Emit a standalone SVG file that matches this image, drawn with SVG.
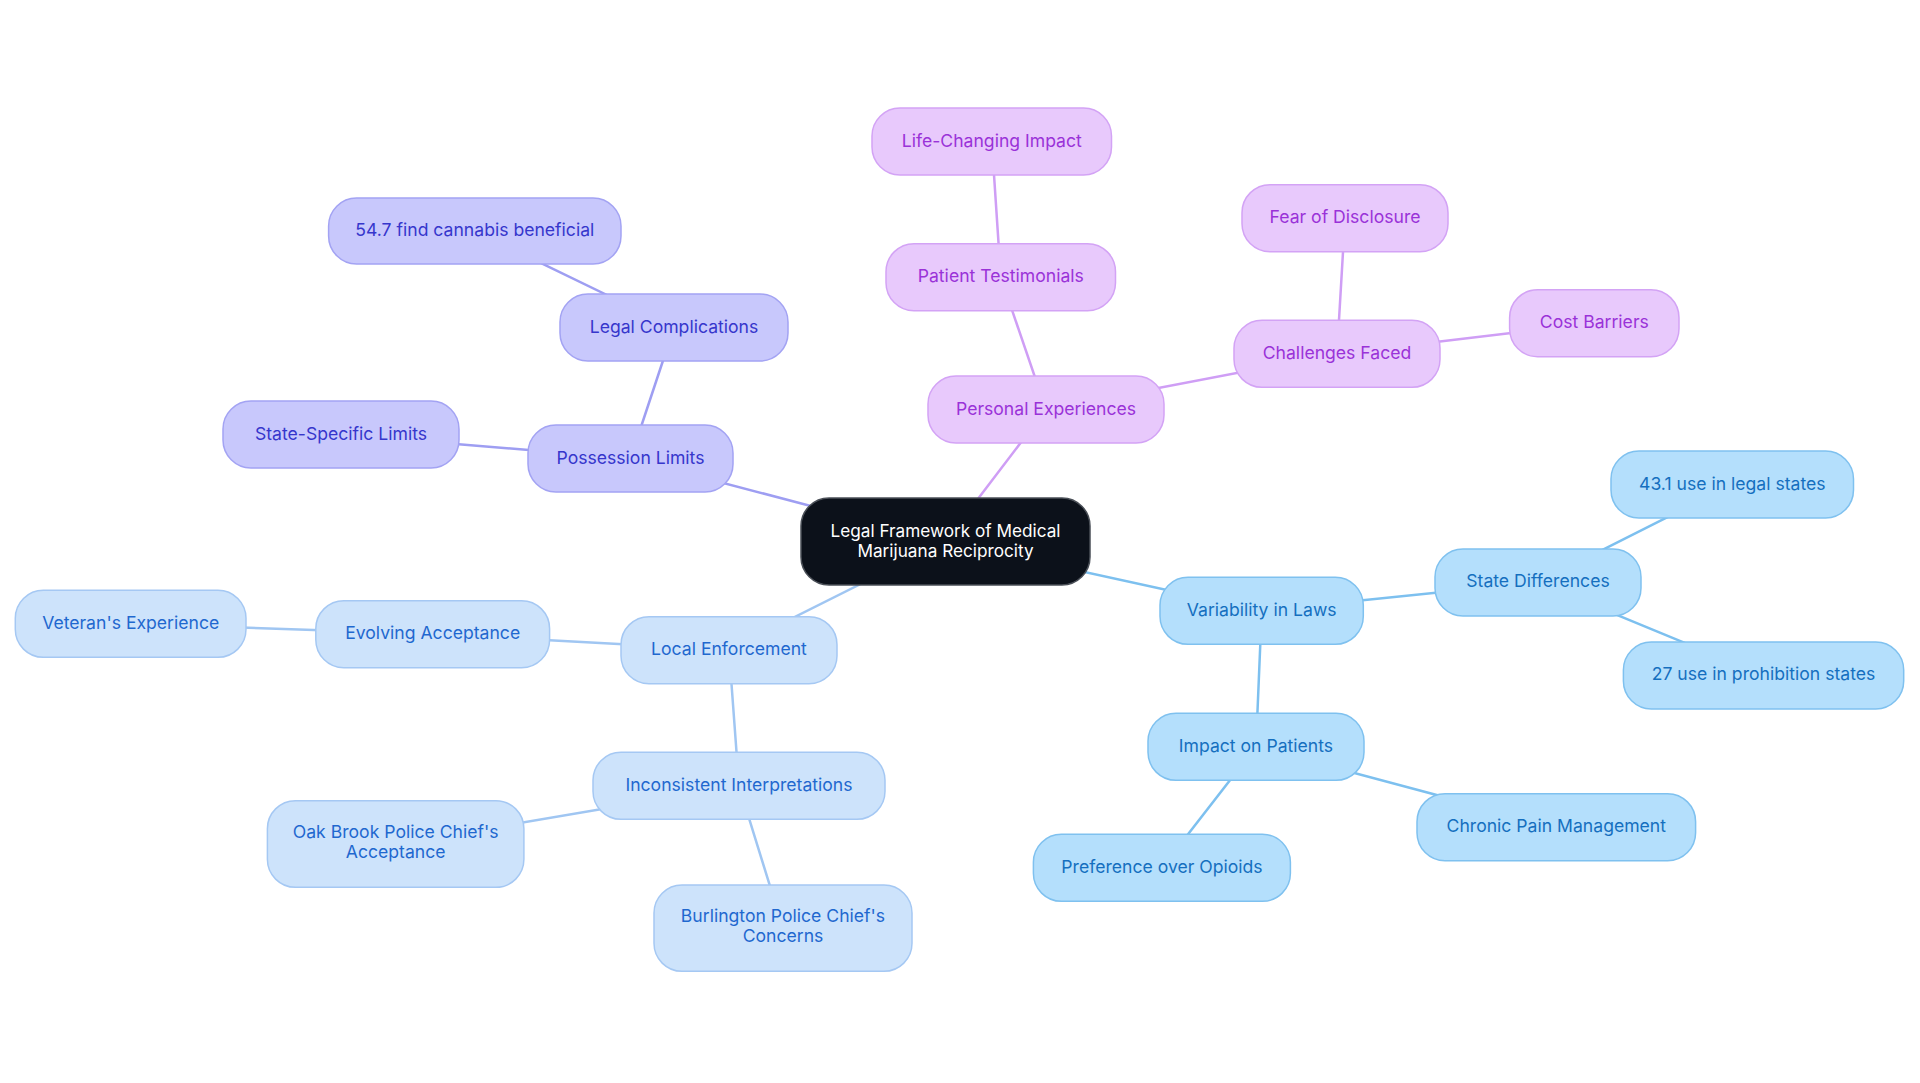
<svg xmlns="http://www.w3.org/2000/svg" width="1920" height="1083" viewBox="0 0 1920 1083">
<style>
text{font-family:Inter,"Open Sans","Liberation Sans",sans-serif;font-size:17.6px;text-anchor:middle}
.e{fill:none;stroke-width:2.5;stroke-linecap:round}
.ei{stroke:#9e9ef2}.ep{stroke:#cf9ef5}.el{stroke:#a0c6f2}.es{stroke:#7dc0ef}
rect{stroke-width:1.5}
.ni rect{fill:#c8c8fc;stroke:#a3a3f3}.ni text{fill:#3636cc}
.np rect{fill:#e8c9fc;stroke:#d3a3f5}.np text{fill:#9a32d8}
.nl rect{fill:#cde3fb;stroke:#a5c8f3}.nl text{fill:#1f68cf}
.ns rect{fill:#b4dffc;stroke:#7fc1ef}.ns text{fill:#156fbf}
.nc rect{fill:#0c111a;stroke:#4a4f57}.nc text{fill:#ffffff;font-size:17.2px}
</style>
<rect x="0" y="0" width="1920" height="1083" fill="#ffffff" stroke="none"/>
<g id="connectors">
<line class="e ei" x1="945.5" y1="541.5" x2="630.5" y2="458.5"/>
<line class="e ei" x1="630.5" y1="458.5" x2="674" y2="327.5"/>
<line class="e ei" x1="674" y1="327.5" x2="474.8" y2="231"/>
<line class="e ei" x1="630.5" y1="458.5" x2="341" y2="434.5"/>
<line class="e ep" x1="945.5" y1="541.5" x2="1046" y2="409.5"/>
<line class="e ep" x1="1046" y1="409.5" x2="1000.8" y2="277.2"/>
<line class="e ep" x1="1000.8" y1="277.2" x2="991.8" y2="141.7"/>
<line class="e ep" x1="1046" y1="409.5" x2="1337" y2="353.8"/>
<line class="e ep" x1="1337" y1="353.8" x2="1345" y2="218.2"/>
<line class="e ep" x1="1337" y1="353.8" x2="1594.3" y2="323.2"/>
<line class="e el" x1="945.5" y1="541.5" x2="729" y2="650"/>
<line class="e el" x1="729" y1="650" x2="432.7" y2="634"/>
<line class="e el" x1="432.7" y1="634" x2="130.7" y2="623.7"/>
<line class="e el" x1="729" y1="650" x2="739" y2="785.8"/>
<line class="e el" x1="739" y1="785.8" x2="395.7" y2="844"/>
<line class="e el" x1="739" y1="785.8" x2="783" y2="928.2"/>
<line class="e es" x1="945.5" y1="541.5" x2="1261.7" y2="610.7"/>
<line class="e es" x1="1261.7" y1="610.7" x2="1538" y2="582.3"/>
<line class="e es" x1="1538" y1="582.3" x2="1732.3" y2="484.5"/>
<line class="e es" x1="1538" y1="582.3" x2="1763.5" y2="675.3"/>
<line class="e es" x1="1261.7" y1="610.7" x2="1256" y2="746.7"/>
<line class="e es" x1="1256" y1="746.7" x2="1556.3" y2="827"/>
<line class="e es" x1="1256" y1="746.7" x2="1162" y2="867.7"/>
</g>
<g id="root" class="nc"><rect x="801" y="498" width="289" height="87" rx="28"/><text x="945.5" y="536.5">Legal Framework of Medical</text><text x="945.5" y="556.5">Marijuana Reciprocity</text></g>
<g id="possession-limits" class="ni"><rect x="528" y="425" width="205" height="67" rx="28"/><text x="630.5" y="463.5">Possession Limits</text></g>
<g id="legal-complications" class="ni"><rect x="560" y="294" width="228" height="67" rx="28"/><text x="674" y="332.5">Legal Complications</text></g>
<g id="find-beneficial" class="ni"><rect x="328.6" y="198" width="292.4" height="66" rx="28"/><text x="474.8" y="236">54.7 find cannabis beneficial</text></g>
<g id="state-specific-limits" class="ni"><rect x="223" y="401" width="236" height="67" rx="28"/><text x="341" y="439.5">State-Specific Limits</text></g>
<g id="personal-experiences" class="np"><rect x="928" y="376" width="236" height="67" rx="28"/><text x="1046" y="414.5">Personal Experiences</text></g>
<g id="patient-testimonials" class="np"><rect x="886" y="243.7" width="229.5" height="67" rx="28"/><text x="1000.8" y="282.2">Patient Testimonials</text></g>
<g id="life-changing-impact" class="np"><rect x="872" y="108" width="239.5" height="67" rx="28"/><text x="991.8" y="146.7">Life-Changing Impact</text></g>
<g id="challenges-faced" class="np"><rect x="1234" y="320.3" width="206" height="67" rx="28"/><text x="1337" y="358.8">Challenges Faced</text></g>
<g id="fear-of-disclosure" class="np"><rect x="1242" y="184.7" width="206" height="67" rx="28"/><text x="1345" y="223.2">Fear of Disclosure</text></g>
<g id="cost-barriers" class="np"><rect x="1509.6" y="289.7" width="169.4" height="67" rx="28"/><text x="1594.3" y="328.2">Cost Barriers</text></g>
<g id="local-enforcement" class="nl"><rect x="621" y="616.7" width="216" height="67" rx="28"/><text x="729" y="655">Local Enforcement</text></g>
<g id="evolving-acceptance" class="nl"><rect x="315.8" y="600.7" width="233.8" height="67" rx="28"/><text x="432.7" y="639">Evolving Acceptance</text></g>
<g id="veterans-experience" class="nl"><rect x="15.3" y="590.3" width="230.7" height="67" rx="28"/><text x="130.7" y="628.7">Veteran's Experience</text></g>
<g id="inconsistent-interpretations" class="nl"><rect x="593" y="752.3" width="292" height="67" rx="28"/><text x="739" y="790.8">Inconsistent Interpretations</text></g>
<g id="oak-brook" class="nl"><rect x="267.4" y="800.7" width="256.5" height="86.6" rx="28"/><text x="395.7" y="838">Oak Brook Police Chief's</text><text x="395.7" y="858">Acceptance</text></g>
<g id="burlington" class="nl"><rect x="654" y="885" width="258" height="86.3" rx="28"/><text x="783" y="922">Burlington Police Chief's</text><text x="783" y="942">Concerns</text></g>
<g id="variability-in-laws" class="ns"><rect x="1160" y="577.3" width="203.3" height="67" rx="28"/><text x="1261.7" y="615.7">Variability in Laws</text></g>
<g id="state-differences" class="ns"><rect x="1435" y="549" width="206" height="67" rx="28"/><text x="1538" y="587.3">State Differences</text></g>
<g id="legal-states" class="ns"><rect x="1611" y="451" width="242.5" height="67" rx="28"/><text x="1732.3" y="489.5">43.1 use in legal states</text></g>
<g id="prohibition-states" class="ns"><rect x="1623.4" y="642" width="280.3" height="67" rx="28"/><text x="1763.5" y="680.3">27 use in prohibition states</text></g>
<g id="impact-on-patients" class="ns"><rect x="1148" y="713.3" width="216" height="67" rx="28"/><text x="1256" y="751.7">Impact on Patients</text></g>
<g id="chronic-pain" class="ns"><rect x="1417" y="793.7" width="278.6" height="67" rx="28"/><text x="1556.3" y="832">Chronic Pain Management</text></g>
<g id="preference-opioids" class="ns"><rect x="1033.4" y="834.3" width="257" height="67" rx="28"/><text x="1162" y="872.7">Preference over Opioids</text></g>
</svg>
